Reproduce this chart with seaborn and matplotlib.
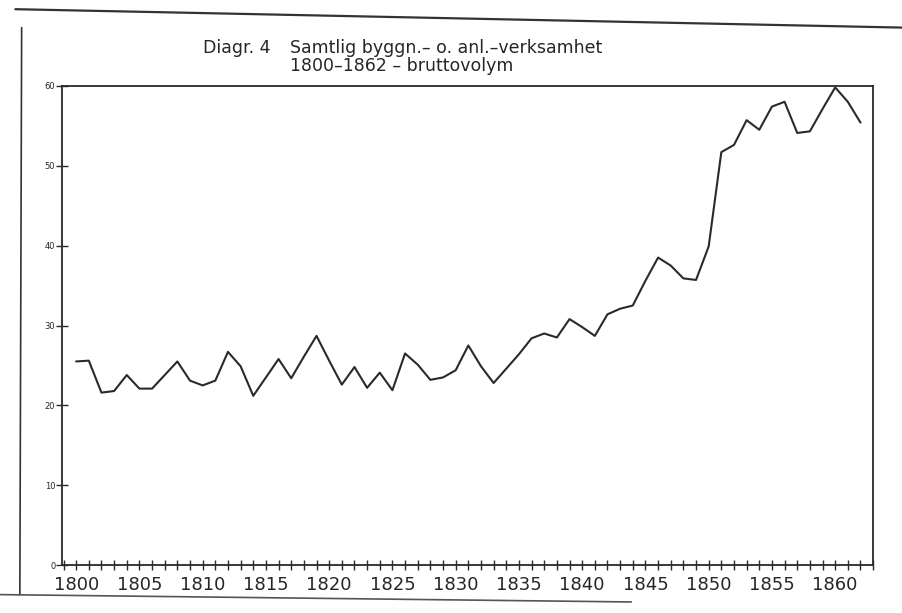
import numpy as np; import pandas as pd; import matplotlib
matplotlib.use("Agg")
import matplotlib.pyplot as plt; import seaborn as sns
from matplotlib.lines import Line2D

# --- values (gross volume, 1800-1862) ---
years = list(range(1800, 1863))
volume = [25.5, 25.6, 21.6, 21.8, 23.8, 22.1, 22.1, 23.8, 25.5, 23.1,
          22.5, 23.1, 26.7, 24.9, 21.2, 23.5, 25.8, 23.4, 26.1, 28.7,
          25.6, 22.6, 24.8, 22.2, 24.1, 21.9, 26.5, 25.1, 23.2, 23.5,
          24.4, 27.5, 24.9, 22.8, 24.6, 26.4, 28.4, 29.0, 28.5, 30.8,
          29.8, 28.7, 31.4, 32.1, 32.5, 35.6, 38.5, 37.5, 35.9, 35.7,
          39.9, 51.7, 52.6, 55.7, 54.5, 57.4, 58.0, 54.1, 54.3, 57.1,
          59.8, 58.0, 55.4]
x_labels = list(range(1800, 1861, 5))
y_ticks = [0, 10, 20, 30, 40, 50, 60]

df = pd.DataFrame({"year": years, "volume": volume})

sns.set_style("white")
plt.rcParams["font.family"] = ["DejaVu Sans"]

fig = plt.figure(figsize=(9.02, 6.13), dpi=100)
ax = fig.add_axes([0.069, 0.078, 0.899, 0.782])
sns.lineplot(data=df, x="year", y="volume", color="#2a2a2a", linewidth=1.5, ax=ax)

ax.set_xlim(1798.9, 1863.0); ax.set_ylim(0, 60)
ax.set_xticks(list(range(1799, 1864)))
ax.set_xticklabels([str(y) if y in x_labels else "" for y in range(1799, 1864)], fontsize=13)
ax.set_yticks(y_ticks); ax.set_yticklabels([str(v) for v in y_ticks], fontsize=6)
ax.tick_params(axis="x", bottom=True, direction="inout", length=7, width=1, color="#2a2a2a", pad=4)
ax.tick_params(axis="y", left=True, direction="inout", length=8, width=1, color="#2a2a2a", pad=1)
for s in ax.spines.values():
    s.set_color("#2a2a2a"); s.set_linewidth(1.3)
ax.set_xlabel(""); ax.set_ylabel("")

fig.text(0.225, 0.922, "Diagr. 4", fontsize=12.5, ha="left", va="center")
fig.text(0.322, 0.922, "Samtlig byggn.\u2013 o. anl.\u2013verksamhet", fontsize=12.5, ha="left", va="center")
fig.text(0.322, 0.893, "1800\u20131862 \u2013 bruttovolym", fontsize=12.5, ha="left", va="center")

# page frame lines from the scan
fig.add_artist(Line2D([0.017, 1.0], [0.985, 0.955], color="#333333", lw=1.6))
fig.add_artist(Line2D([0.024, 0.022], [0.955, 0.03], color="#333333", lw=1.2))
fig.add_artist(Line2D([0.0, 0.70], [0.03, 0.018], color="#555555", lw=1.2))

fig.savefig("out.png", dpi=100)
